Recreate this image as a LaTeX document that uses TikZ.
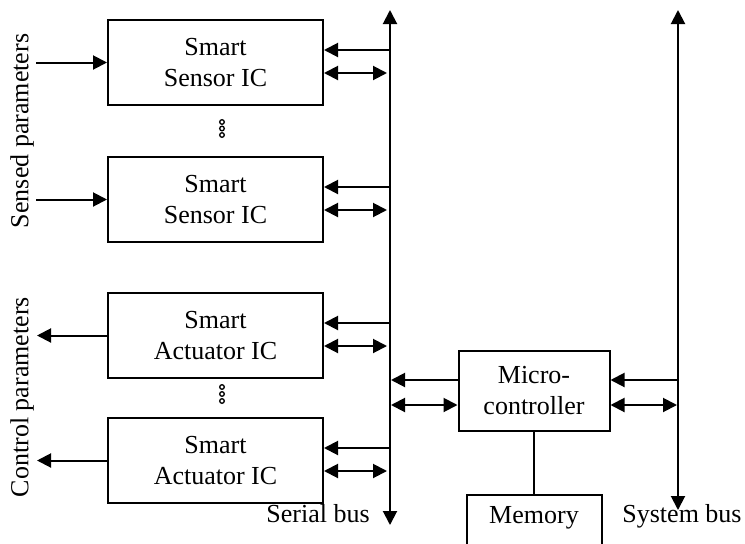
\documentclass[tikz,border=0pt]{standalone}
\usepackage{fontspec}
\setmainfont{Liberation Serif}
\usetikzlibrary{arrows.meta, positioning, calc}

\begin{document}
\begin{tikzpicture}[x=1pt,y=-1pt,>={Triangle[length=14pt,width=14pt]},
  line width=2pt, font=\fontsize{26}{31}\selectfont,
  sq node/.style={rectangle,draw,align=center,inner sep=0pt,minimum width=215pt,minimum height=85pt},
  mc node/.style={rectangle,draw,align=center,inner sep=0pt,minimum width=151pt,minimum height=80pt},
  small dot/.style={line width=1.3pt}]
  \useasboundingbox (0,0) rectangle (745,544);
  \clip (0,0) rectangle (745,544);
  \node[sq node] (1) at (215.5,62.5) {Smart\\Sensor IC};
  \node[sq node, below=50pt of 1] (2) {Smart\\Sensor IC};
  \node[sq node] (3) at (215.5,335.5) {Smart\\Actuator IC};
  \node[sq node, below=38pt of 3] (4) {Smart\\Actuator IC};
  \node[mc node] (mc) at (534,391) {Micro-\\controller};
  \node[rectangle, draw, anchor=north, minimum width=135pt, inner sep=0pt,
    text height=28pt, text depth=40pt] (mem) at (534,494) {Memory};
  \coordinate (sbt) at (390,10);
  \coordinate (sbb) at (390,525);
  \coordinate (ybt) at (678,10);
  \coordinate (ybb) at (678,510);
  \coordinate (inx) at (36,0);
  \coordinate (outx) at (37,0);
  \draw[<->] (sbt) -- (sbb);
  \draw[<->] (ybt) -- (ybb);
  \foreach \n in {1,2,3,4} {
    \draw[<-] ([yshift=-31pt]\n.north east) coordinate (p) -- (p -| sbt);
    \draw[<->] ([yshift=-54pt]\n.north east) coordinate (q) -- ([xshift=-3pt]q -| sbt);
  }
  \draw[->] (1.west -| inx) -- (1.west);
  \draw[->] (2.west -| inx) -- (2.west);
  \draw[->] (3.west) -- (3.west -| outx);
  \draw[->] (4.west) -- (4.west -| outx);
  \draw[->] ([yshift=-30pt]mc.north west) coordinate (p) -- ([xshift=1pt]p -| sbt);
  \draw[<->] ([yshift=-55pt]mc.north west) coordinate (q) -- ([xshift=1pt]q -| sbt);
  \draw[<-] ([yshift=-30pt]mc.north east) coordinate (p) -- (p -| ybt);
  \draw[<->] ([yshift=-55pt]mc.north east) coordinate (q) -- ([xshift=-1pt]q -| ybt);
  \draw (mc) -- (mem);
  \foreach \y in {122,128.5,135} \draw[small dot] (222,\y) circle (2.3pt);
  \foreach \y in {387,394,401} \draw[small dot] (222,\y) circle (2.3pt);
  \node[rotate=90] (sp) at (22,131) {Sensed parameters};
  \node[rotate=90] (cp) at (22,397) {Control parameters};
  \node[anchor=base] (sbl) at (318,522) {Serial bus};
  \node[anchor=base] (ybl) at (682,522) {System bus};
\end{tikzpicture}
\end{document}
